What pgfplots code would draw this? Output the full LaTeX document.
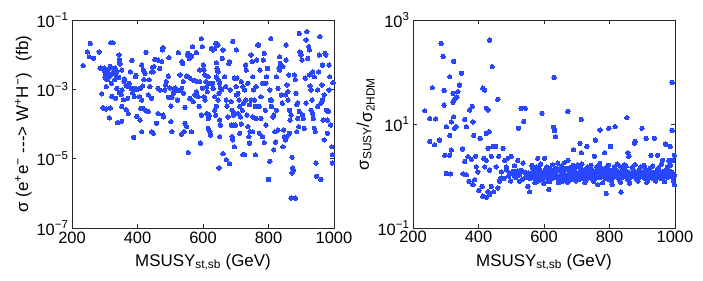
\documentclass[border=0pt]{standalone}
\usepackage{fontspec}
\setmainfont{Liberation Sans}
\usepackage{pgfplots}
\pgfplotsset{compat=1.18}
\definecolor{dotblue}{rgb}{0.16,0.28,1}
\begin{document}
\begin{tikzpicture}
\path[use as bounding box] (0bp,0bp) rectangle (703bp,281bp);
\begin{axis}[at={(72bp,53bp)}, anchor=south west,
  scale only axis, width=262bp, height=208bp,
  xmin=200, xmax=1000, xtick={200,400,600,800,1000},
  xticklabels={200,400,600,800,1000},
  ymode=log, ymin=1e-7, ymax=1e-1, yminorticks=false,
  ytick={1e-7,1e-5,1e-3,1e-1},
  yticklabels={10\textsuperscript{−7},10\textsuperscript{−5},10\textsuperscript{−3},10\textsuperscript{−1}},
  tick align=inside, major tick length=4bp,
  axis line style={black!85, line width=0.6bp},
  every tick/.style={black!85, line width=0.6bp},
  ticklabel style={font=\fontsize{16.5}{18}\selectfont},
  label style={font=\fontsize{17}{19}\selectfont},
  xlabel={MSUSY\textsubscript{st,sb} (GeV)},
  xlabel style={yshift=-4bp},
  ylabel={σ (e\textsuperscript{+}e\textsuperscript{−} -{}-{}-> W\textsuperscript{+}H\textsuperscript{−})\hspace{0.7em}(fb)},
  ylabel style={yshift=-2bp}]
\addplot[only marks, color=dotblue, mark=*, mark size=2.2pt, mark options={fill=dotblue, draw=dotblue, line width=0pt}] table {
x y
234 4.8e-3
247 1.2e-2
256 2.1e-2
253 8.7e-3
266 7.9e-3
283 1.2e-2
286 4.1e-3
291 7.4e-4
294 2.9e-4
299 4.1e-3
298 3.5e-3
304 2.8e-3
312 3.8e-3
317 4.6e-3
325 2.2e-2
319 2.2e-2
327 3.2e-3
332 4.1e-3
337 3.2e-3
342 2.2e-3
330 1.9e-3
307 1.9e-3
301 2.2e-3
313 2.3e-3
323 2.8e-3
344 9.8e-3
345 6.8e-3
347 5.4e-3
352 3.6e-3
359 1.7e-3
365 1.3e-3
371 1.2e-3
353 9.5e-4
370 5.5e-4
383 6.8e-3
380 1.07e-3
388 1.07e-3
393 1.07e-3
378 3.2e-3
337 1.07e-3
333 5.5e-4
322 6.2e-4
317 2.9e-4
314 1.5e-4
296 2.9e-4
304 2.7e-4
352 3.2e-4
365 2.6e-4
372 2.0e-4
352 1.2e-4
339 1.1e-4
357 5e-4
345 8.1e-4
388 4.1e-5
398 1.66e-4
390 6.2e-4
394 2.3e-3
399 1e-3
310 3.0e-3
320 1.5e-3
335 2.5e-3
360 2.0e-3
375 1.5e-3
385 8e-4
395 2.5e-3
305 1.2e-3
328 4e-3
350 7e-4
413 5.0e-3
418 3.6e-3
423 2.9e-3
426 1.17e-2
420 1.9e-3
416 1.26e-3
408 1.07e-3
406 6.1e-4
413 4.9e-4
418 2.8e-4
423 2.5e-4
410 2.8e-4
408 1.3e-4
413 6e-5
433 6.9e-4
436 1.9e-3
438 1.2e-3
443 5.5e-4
446 4.3e-3
448 3.2e-3
450 4.5e-3
453 7.3e-3
458 1.05e-4
463 2.0e-4
463 1.07e-3
468 9.6e-4
468 4.0e-3
474 6.3e-3
476 1.37e-2
478 1.6e-2
478 1.8e-4
480 1.6e-4
483 9.6e-4
486 1.34e-3
488 1.67e-3
494 2.4e-3
494 5.9e-4
496 8.2e-3
499 1.1e-3
463 7e-3
443 6e-5
448 5.4e-5
433 2.3e-4
443 3.2e-3
502 3.3e-4
505 5.9e-4
510 7.7e-4
512 1e-3
515 1.1e-3
502 1.17e-4
505 6e-5
520 9.6e-4
522 4.9e-4
525 1.15e-2
530 2.6e-3
535 6.3e-3
538 5.6e-3
530 9.2e-4
535 1.07e-3
540 7.7e-4
542 6e-5
545 1.05e-4
545 3e-4
550 2.4e-3
552 9.8e-3
555 1.09e-2
558 7.8e-3
560 2.1e-3
565 9.1e-3
568 1.7e-2
570 4.4e-4
572 1.8e-3
580 1.15e-2
580 8.6e-4
585 6.1e-4
588 3.2e-4
590 1.67e-3
592 2.8e-5
595 1.8e-4
595 2.9e-2
598 1.07e-3
555 1.5e-5
535 5.1e-5
550 8.4e-5
565 6e-5
575 6.9e-4
582 1.67e-3
590 3.6e-3
598 1.7e-2
560 5.5e-4
540 1.67e-3
601 5.0e-3
603 3.6e-3
606 2.6e-3
609 1.67e-3
611 1.2e-3
613 8.6e-4
603 6.1e-4
606 4.9e-4
611 2.0e-4
616 7.5e-5
621 6e-5
623 4.8e-5
616 1.45e-4
619 1.8e-4
626 1.5e-2
631 1.37e-2
636 1.5e-2
639 2.1e-2
646 1.9e-2
641 5.9e-3
643 4.0e-3
646 3.2e-3
641 2.3e-3
646 1.9e-3
651 1.5e-3
653 1.07e-3
649 7.7e-4
646 4.9e-4
641 3.2e-4
636 2.5e-4
639 1.8e-4
651 1.3e-4
653 9.3e-5
656 9.6e-4
659 7.8e-3
661 1.37e-2
666 2.3e-3
669 1.2e-3
671 4.9e-4
673 3.3e-4
676 1.6e-4
679 5.6e-3
681 6.3e-3
683 9.6e-4
686 4.4e-4
649 5.4e-6
661 1.4e-5
671 9.3e-6
681 7.2e-6
691 2.4e-2
696 2.1e-3
699 9.3e-5
701 1.2e-3
689 2.5e-4
693 1.8e-4
691 3.5e-5
696 2.2e-5
689 4.3e-5
651 4.3e-5
631 1.07e-3
636 6.1e-4
623 1.5e-3
616 2.3e-3
629 1.5e-3
702 1.37e-2
704 2.1e-3
707 7.7e-4
710 4.9e-4
712 3.2e-4
714 1.6e-4
717 1e-4
720 2.5e-4
722 1.2e-3
724 4e-4
727 9.6e-4
730 4.9e-4
732 3.6e-3
734 1.8e-4
737 8.4e-5
740 4.3e-5
742 2.8e-5
744 6e-5
747 9.8e-3
750 6.3e-3
752 2.3e-3
754 9.6e-4
757 4.9e-4
760 3.2e-4
762 1.45e-4
764 7e-3
767 1.9e-2
770 1.9e-2
772 3.2e-4
774 3.6e-3
777 6.1e-4
782 4.3e-5
784 7e-3
787 2.9e-5
790 2.5e-4
792 1.5e-3
794 2.3e-3
797 4e-3
800 2.5e-6
804 8.4e-6
807 2.9e-2
712 5.4e-5
722 1.3e-5
727 1.3e-5
760 1.3e-5
692 9.3e-5
702 6.9e-4
737 1.5e-3
747 4.9e-4
772 5.4e-5
782 1.5e-3
752 6e-5
717 1.67e-3
730 5e-3
687 9.3e-5
697 2e-4
707 2e-4
742 3.6e-4
752 1.6e-4
762 1.2e-3
777 1.45e-4
787 1.09e-2
792 9.3e-5
804 9.6e-4
806 4.9e-4
809 3.2e-4
814 1.6e-4
816 1.8e-4
819 6e-5
822 3e-5
824 2.3e-3
829 1.07e-3
832 4e-3
834 8.7e-3
836 5.6e-3
839 6.9e-4
842 4e-4
846 6.7e-5
849 4.3e-5
852 3.5e-5
854 1.9e-2
856 1.34e-3
859 8.6e-4
860 4.9e-4
864 2.5e-4
866 1.3e-4
869 1.8e-4
872 1.1e-5
874 5.4e-6
876 4.8e-6
879 2.6e-3
882 1.9e-3
884 7.7e-4
886 3.6e-4
889 4e-4
892 8.4e-5
894 4.1e-2
896 1.2e-2
899 9.8e-3
902 7e-3
904 1.8e-4
906 1.45e-4
909 7.5e-5
912 2.1e-3
869 7.3e-7
882 7.3e-7
816 1.8e-5
844 2.2e-5
856 4.3e-5
824 2.5e-4
834 3.6e-3
862 2.6e-3
872 3.9e-6
889 1.45e-4
864 5.4e-5
894 2.3e-4
852 6.9e-4
809 4.9e-4
829 6.7e-5
844 4.5e-3
854 7e-3
886 6e-5
915 2.65e-2
917 4.6e-2
920 7.8e-3
923 1.7e-2
925 2.6e-3
927 1.26e-3
930 9.6e-4
933 4.9e-4
935 2e-4
937 1.45e-4
940 7.5e-5
943 6e-5
945 7.5e-6
947 3.1e-6
950 9.6e-4
953 3.2e-3
955 9.8e-3
957 3.3e-2
960 2.5e-6
963 1.34e-3
965 4.9e-4
967 1.3e-4
970 3.5e-5
973 1.09e-2
975 9.8e-3
977 2.5e-4
980 1.3e-4
983 2.3e-4
985 5e-3
987 2.3e-3
990 9.3e-5
993 2.2e-5
995 7.5e-6
997 1.56e-3
995 1.3e-5
925 1.37e-2
940 2.3e-3
950 3.2e-4
960 4e-4
970 6.9e-4
980 5.4e-5
935 3.2e-3
915 4e-4
930 2.5e-4
965 5e-3
985 9.6e-4
};
\end{axis}
\begin{axis}[at={(413bp,53bp)}, anchor=south west,
  scale only axis, width=262bp, height=208bp,
  xmin=200, xmax=1000, xtick={200,400,600,800,1000},
  xticklabels={200,400,600,800,1000},
  ymode=log, ymin=1e-1, ymax=1e3, yminorticks=false,
  ytick={1e-1,1e1,1e3},
  yticklabels={10\textsuperscript{−1},10\textsuperscript{1},10\textsuperscript{3}},
  tick align=inside, major tick length=4bp,
  axis line style={black!85, line width=0.6bp},
  every tick/.style={black!85, line width=0.6bp},
  ticklabel style={font=\fontsize{16.5}{18}\selectfont},
  label style={font=\fontsize{17}{19}\selectfont},
  xlabel={MSUSY\textsubscript{st,sb} (GeV)},
  xlabel style={yshift=-4bp},
  ylabel={σ\textsubscript{SUSY}/\raisebox{-0.2em}{σ\textsubscript{2HDM}}},
  ylabel style={yshift=-4bp}]
\addplot[only marks, color=dotblue, mark=*, mark size=2.2pt, mark options={fill=dotblue, draw=dotblue, line width=0pt}] table {
x y
286 355
292 200
324 160
434 410
442 127
459 29.9
348 94
312 81
259 50
342 56
337 42
295 44
322 39
327 30
334 33
322 26
295 23
236 18
381 22
413 49
424 20
530 20
543 20
538 11.2
522 8.3
594 16
631 79
673 17.5
714 12.2
853 13.3
991 63
251 12.7
269 12.5
302 8.9
327 8.3
332 8.9
324 13.8
317 11.0
358 12.2
363 8.9
373 18.6
383 11
385 6
405 5.3
424 6.6
432 7.1
444 3.7
452 3.7
429 18.6
419 45
312 6
317 3.16
312 2.5
251 4.6
266 4.0
281 4.9
297 2.5
302 1.12
315 1.1
353 1.1
363 1.06
358 1.9
368 2.36
351 3.3
371 0.79
378 2.1
391 2.4
393 1.5
398 1.2
383 0.68
388 0.85
401 0.53
411 0.63
413 0.41
424 0.39
416 2.2
419 1.5
424 2.0
429 3.4
434 1.3
439 2.4
434 0.44
429 0.5
439 0.63
446 0.5
454 1.5
462 2.4
464 0.79
469 0.92
459 0.59
475 3.4
480 2.0
485 1.5
490 2.2
495 1.14
500 2.4
505 1.23
510 1.58
515 0.99
520 2.0
525 0.79
530 1.28
536 1.77
541 0.92
546 1.14
551 0.63
556 0.5
561 1.14
566 1.4
571 0.92
576 1.5
581 2.2
586 1.14
591 0.85
597 1.14
602 2.2
607 1.06
612 0.79
615 0.55
617 1.4
622 0.92
627 1.14
629 8.6
632 7.5
635 5.7
637 1.32
642 1.77
647 0.99
652 1.32
657 0.79
662 1.06
668 1.4
673 2.0
678 1.14
683 0.85
688 1.32
690 3.2
693 1.23
698 1.06
703 1.65
708 0.99
710 4.25
714 2.8
718 1.32
724 1.14
729 0.85
731 3.7
734 1.5
739 1.06
744 1.32
749 0.92
754 2.4
757 4.9
759 1.23
764 0.68
769 1.06
771 7.7
774 1.4
779 0.99
785 2.8
790 1.23
790 0.46
795 1.14
798 8.3
800 0.92
803 3.7
808 0.68
812 1.14
815 0.99
817 8.9
820 1.32
825 1.06
830 0.85
835 1.5
835 0.49
840 1.14
845 1.65
851 0.99
856 2.8
859 2.4
861 0.73
866 1.14
871 1.4
876 4.25
879 4.6
881 1.14
886 0.92
891 1.32
896 1.06
899 8.3
901 0.99
907 1.5
910 1.06
912 5.3
917 0.85
922 1.14
927 2.5
932 0.99
937 5.3
942 1.14
947 2.5
952 0.92
957 1.14
962 2.0
968 1.06
971 4.1
973 1.32
978 0.99
981 2.0
983 1.14
985 3.7
988 0.99
991 7.5
993 2.0
995 1.06
998 0.68
998 2.5
560 1.05
565 0.95
570 1.25
575 0.9
578 1.1
583 0.8
588 1.3
592 1.0
597 0.88
603 1.15
606 0.95
610 1.25
614 0.85
619 1.05
623 1.3
626 0.9
630 1.1
634 1.2
638 0.95
641 1.35
645 0.85
649 1.0
653 1.2
656 0.9
660 1.1
664 1.3
667 0.95
671 1.05
675 0.8
679 1.2
682 1.0
686 0.9
690 1.15
694 1.35
697 0.95
701 1.05
705 0.85
709 1.2
712 1.0
716 1.1
720 0.9
724 1.3
727 1.0
731 1.15
735 0.95
738 1.05
742 1.25
746 0.88
750 1.1
753 1.0
757 1.2
761 0.92
765 1.05
768 1.3
772 0.95
776 1.1
780 1.0
783 1.2
787 0.9
791 1.05
795 1.15
798 0.85
802 1.1
806 1.0
810 1.25
813 0.95
817 1.1
821 1.0
825 1.2
828 0.9
832 1.05
836 1.15
840 0.95
843 1.1
847 1.0
851 1.25
855 0.88
858 1.05
862 1.15
866 0.95
870 1.1
873 1.0
877 1.2
881 0.9
884 1.05
888 1.1
892 0.95
896 1.2
899 1.0
903 1.1
907 0.9
911 1.05
914 1.15
918 0.95
922 1.1
926 1.0
929 1.2
933 0.9
937 1.05
941 1.1
945 0.95
948 1.15
952 1.0
956 1.1
960 0.9
963 1.2
967 1.0
971 1.05
975 1.15
978 0.95
982 1.1
986 1.0
990 1.2
994 0.9
998 1.05
470 1.2
478 0.9
486 1.3
492 1.0
498 0.8
505 1.1
512 0.95
518 1.25
526 1.05
533 0.85
538 1.2
546 1.0
552 1.15
557 0.9
563 1.6
572 0.75
581 1.45
590 1.7
599 0.72
608 1.5
617 0.78
626 1.65
635 1.4
644 0.74
653 1.55
662 1.8
671 0.76
680 1.45
689 1.6
698 0.8
707 1.5
716 1.7
725 0.75
734 1.4
743 1.6
752 0.78
761 1.5
770 1.75
779 0.74
788 1.45
797 1.6
806 0.8
815 1.5
824 1.7
833 0.76
842 1.4
851 1.55
860 0.78
869 1.45
878 1.65
887 0.8
896 1.5
905 1.6
914 0.76
923 1.4
932 1.55
941 0.8
950 1.45
959 1.7
968 0.78
977 1.5
986 1.6
995 0.82
567 1.2
585 1.05
603 1.3
621 1.1
639 1.25
657 1.05
675 1.3
693 1.1
711 1.25
729 1.05
747 1.3
765 1.15
783 1.05
801 1.3
819 1.15
837 1.25
855 1.1
873 1.3
891 1.15
909 1.25
927 1.1
945 1.3
963 1.15
981 1.25
};
\end{axis}
\end{tikzpicture}
\end{document}
